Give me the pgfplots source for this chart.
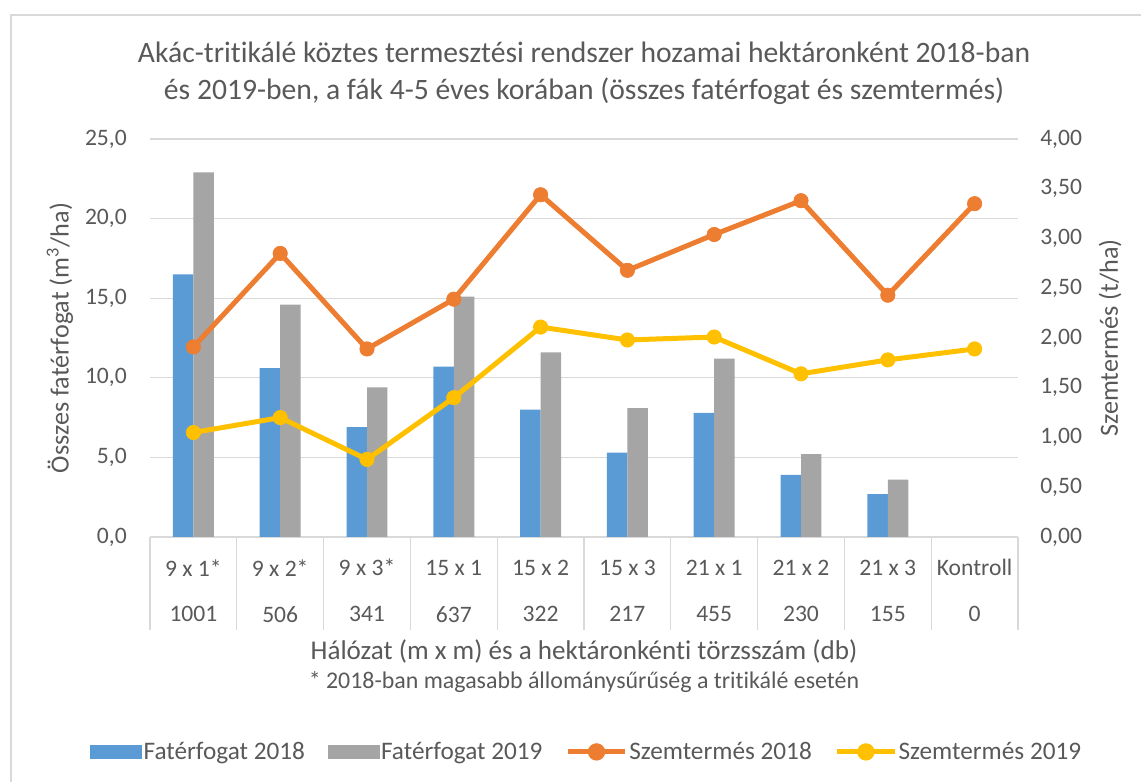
\documentclass[border=0pt]{standalone}
\usepackage{fontspec}
\setmainfont{Carlito}[Ligatures={NoCommon}]
\usepackage{pgfplots}
\pgfplotsset{compat=1.18}
\definecolor{c18}{HTML}{5B9BD5}
\definecolor{c19}{HTML}{A5A5A5}
\definecolor{o18}{HTML}{ED7D31}
\definecolor{y19}{HTML}{FFC000}
\definecolor{gridc}{HTML}{D9D9D9}
\definecolor{txt}{HTML}{595959}
\newcommand{\tickfont}{\fontsize{17.75}{21}\selectfont}
\newcommand{\labfont}{\fontsize{19.7}{23}\selectfont}
\begin{document}
\begin{tikzpicture}
\useasboundingbox (0,0) rectangle (855.75bp,586.5bp);
\draw[gridc, line width=1.2bp] (8.25bp,-2bp) -- (8.25bp,575.25bp) -- (858bp,575.25bp);
\node[font=\fontsize{22.3}{26}\selectfont, text=txt, anchor=base] at (438bp,539.25bp) {Akác-tritikálé köztes termesztési rendszer hozamai hektáronként 2018-ban};
\node[font=\fontsize{22.3}{26}\selectfont, text=txt, anchor=base] at (438bp,511.5bp) {és 2019-ben, a fák 4-5 éves korában (összes fatérfogat és szemtermés)};
\node[font=\fontsize{18}{21}\selectfont, text=txt, anchor=center] at (438bp,75bp) {* 2018-ban magasabb állománysűrűség a tritikálé esetén};

\begin{axis}[
  at={(112.5bp,183.75bp)}, anchor=south west,
  scale only axis, width=651bp, height=298.5bp,
  xmin=-0.5, xmax=9.5, ymin=0, ymax=25,
  clip=false,
  axis x line*=bottom, axis y line*=left,
  y axis line style={draw=none},
  x axis line style={draw=gridc, line width=1bp},
  ymajorgrids, grid style={gridc, line width=1bp},
  major tick length=0pt,
  ytick={0,5,...,25},
  ytick style={draw=none},
  yticklabel style={anchor=east, inner sep=0pt, xshift=-17.25bp, font=\tickfont, text=txt},
  /pgf/number format/.cd, fixed, fixed zerofill, precision=1, use comma, assume math mode=true, /pgfplots/.cd,
  xtick={0,...,9},
  xticklabels={9 x 1*, 9 x 2*, 9 x 3*, 15 x 1, 15 x 2, 15 x 3, 21 x 1, 21 x 2, 21 x 3, Kontroll},
  major x tick style={draw=none},
  xticklabel style={anchor=center, inner sep=0pt, yshift=-23bp, font=\tickfont, text=txt},
  minor xtick={-0.5,0.5,...,9.5},
  minor x tick style={draw=gridc, line width=1bp},
  tick align=outside,
  minor tick length=69.75bp,
  ylabel={Összes fatérfogat (m\textsuperscript{3}/ha)},
  y label style={at={(axis description cs:-0.1037,0.5)}, anchor=center, font=\labfont, text=txt},
  xlabel={Hálózat (m x m) és a hektáronkénti törzsszám (db)},
  x label style={at={(axis description cs:0.5,-0.2864)}, anchor=center, font=\fontsize{20.4}{24}\selectfont, text=txt},
]
\addplot[ybar, bar width=0.236, bar shift=-0.118, fill=c18, draw=none] coordinates {
(0,16.5) (1,10.6) (2,6.9) (3,10.7) (4,8.0) (5,5.3) (6,7.8) (7,3.9) (8,2.7)};
\addplot[ybar, bar width=0.236, bar shift=0.118, fill=c19, draw=none] coordinates {
(0,22.9) (1,14.6) (2,9.4) (3,15.1) (4,11.6) (5,8.1) (6,11.2) (7,5.2) (8,3.6)};
\node[font=\tickfont, text=txt] at ([yshift=-58bp]axis cs:0,0) {1001};
\node[font=\tickfont, text=txt] at ([yshift=-58bp]axis cs:1,0) {506};
\node[font=\tickfont, text=txt] at ([yshift=-58bp]axis cs:2,0) {341};
\node[font=\tickfont, text=txt] at ([yshift=-58bp]axis cs:3,0) {637};
\node[font=\tickfont, text=txt] at ([yshift=-58bp]axis cs:4,0) {322};
\node[font=\tickfont, text=txt] at ([yshift=-58bp]axis cs:5,0) {217};
\node[font=\tickfont, text=txt] at ([yshift=-58bp]axis cs:6,0) {455};
\node[font=\tickfont, text=txt] at ([yshift=-58bp]axis cs:7,0) {230};
\node[font=\tickfont, text=txt] at ([yshift=-58bp]axis cs:8,0) {155};
\node[font=\tickfont, text=txt] at ([yshift=-58bp]axis cs:9,0) {0};
\end{axis}

\begin{axis}[
  at={(112.5bp,183.75bp)}, anchor=south west,
  scale only axis, width=651bp, height=298.5bp,
  xmin=-0.5, xmax=9.5, ymin=0, ymax=4,
  clip=false,
  axis x line=none, axis y line*=right,
  y axis line style={draw=none},
  major tick length=0pt,
  ytick={0,0.5,...,4},
  ytick style={draw=none},
  yticklabel style={anchor=west, inner sep=0pt, xshift=16.5bp, font=\tickfont, text=txt},
  /pgf/number format/.cd, fixed, fixed zerofill, precision=2, use comma, assume math mode=true, /pgfplots/.cd,
  ylabel={Szemtermés (t/ha)},
  y label style={at={(axis description cs:1.106,0.5)}, anchor=center, font=\labfont, text=txt},
  legend columns=4,
  legend style={at={(0.503,-0.540)}, anchor=center, draw=none, fill=none, font=\fontsize{19}{22}\selectfont, text=txt,
    /tikz/every even column/.append style={column sep=16bp}, nodes={inner sep=1.2bp}},
]
\addlegendimage{legend image code/.code={\fill[c18] (0bp,-4.9bp) rectangle (38.25bp,4.9bp);}}
\addlegendentry{Fatérfogat 2018}
\addlegendimage{legend image code/.code={\fill[c19] (0bp,-4.9bp) rectangle (38.25bp,4.9bp);}}
\addlegendentry{Fatérfogat 2019}
\addplot[o18, line width=3.75bp, mark=*, mark size=5.4bp, mark options={line width=0.5bp, fill=o18},
  legend image code/.code={\draw[o18, line width=3.75bp] (0bp,0bp) -- (43bp,0bp); \fill[o18] (21.5bp,0bp) circle (4.6bp);}]
  coordinates {(0,1.91) (1,2.85) (2,1.89) (3,2.39) (4,3.44) (5,2.68) (6,3.04) (7,3.38) (8,2.43) (9,3.35)};
\addlegendentry{Szemtermés 2018}
\addplot[y19, line width=3.75bp, mark=*, mark size=5.4bp, mark options={line width=0.5bp, fill=y19},
  legend image code/.code={\draw[y19, line width=3.75bp] (0bp,0bp) -- (43bp,0bp); \fill[y19] (21.5bp,0bp) circle (4.6bp);}]
  coordinates {(0,1.05) (1,1.20) (2,0.78) (3,1.40) (4,2.11) (5,1.98) (6,2.01) (7,1.64) (8,1.78) (9,1.89)};
\addlegendentry{Szemtermés 2019}
\end{axis}
\end{tikzpicture}
\end{document}
